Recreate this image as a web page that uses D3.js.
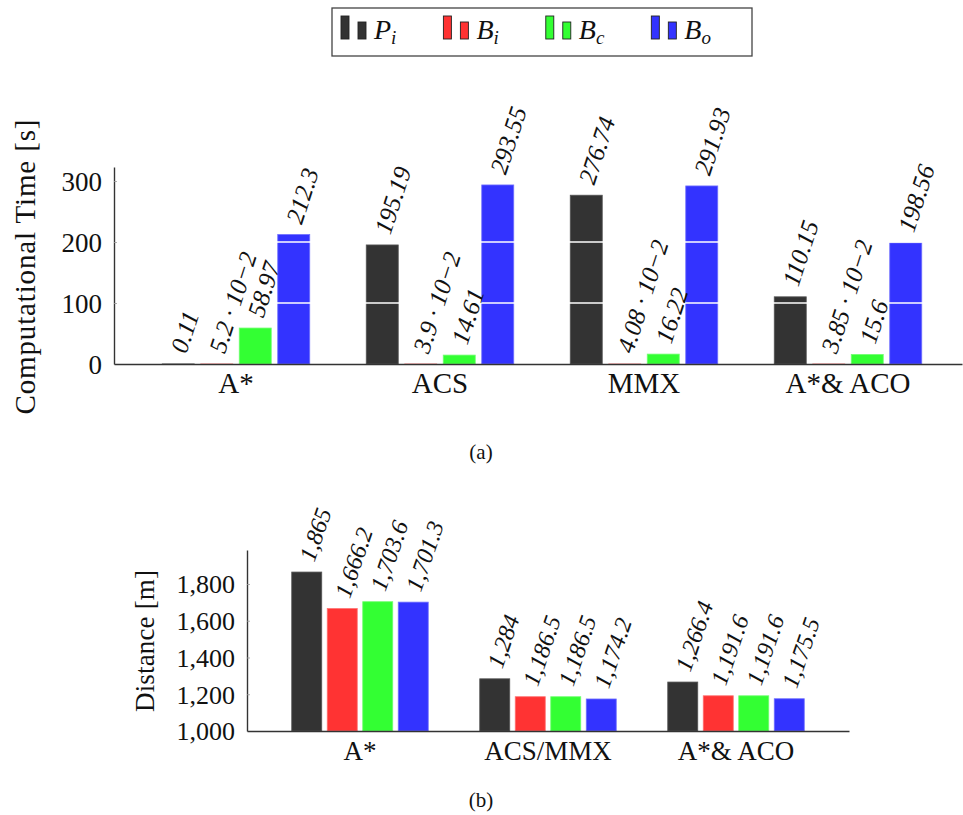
<!DOCTYPE html>
<html>
<head>
<meta charset="utf-8">
<script src="https://cdn.jsdelivr.net/npm/d3@7"></script>
<style>
  html, body { margin: 0; padding: 0; background: #fff; }
  svg { display: block; }
  text { font-family: "Liberation Serif", "Times New Roman", serif; fill: #111; }
</style>
</head>
<body>
<svg id="fig" width="963" height="815"></svg>
<script>
// ---- data -------------------------------------------------------------
const series = ["P_i", "B_i", "B_c", "B_o"];
const seriesColors = ["#333333", "#ff3333", "#33ff33", "#3333ff"];
const seriesStroke = ["#555555", "#ff7070", "#70ff70", "#7070ff"];

// (a) computational time [s]
const timeCategories = ["A*", "ACS", "MMX", "A*& ACO"];
const timePi = [0.11, 195.19, 276.74, 110.15];
const timeBi = [5.2e-2, 3.9e-2, 4.08e-2, 3.85e-2];
const timeBc = [58.97, 14.61, 16.22, 15.6];
const timeBo = [212.3, 293.55, 291.93, 198.56];
const timeTicks = [0, 100, 200, 300];

// (b) distance [m]
const distCategories = ["A*", "ACS/MMX", "A*& ACO"];
const distPi = [1865, 1284, 1266.4];
const distBi = [1666.2, 1186.5, 1191.6];
const distBc = [1703.6, 1186.5, 1191.6];
const distBo = [1701.3, 1174.2, 1175.5];
const distTicks = [1000, 1200, 1400, 1600, 1800];

// ---- helpers ----------------------------------------------------------
const svg = d3.select("#fig");
const AXIS = "#333";

function fmtTime(v) {
  if (v < 0.1) {
    const e = Math.floor(Math.log10(v));
    const m = +(v / Math.pow(10, e)).toFixed(2);
    return m + " \u00b7 10\u2212" + (-e);
  }
  return String(v);
}
const fmtDist = d3.format(",");

function groupedBars(opt) {
  const g = svg.append("g");
  const x = d3.scaleBand().domain(opt.categories)
    .range(opt.xRange).paddingInner(0).paddingOuter(opt.outer).align(opt.align);
  const inner = d3.scaleBand().domain(series)
    .range([-opt.span / 2, opt.span / 2]).paddingInner(opt.innerPad).paddingOuter(0);
  const y = d3.scaleLinear().domain(opt.yDomain).range(opt.yRange);

  const rows = [];
  opt.values.forEach((vals, si) => {
    vals.forEach((v, ci) => rows.push({ s: series[si], si, c: opt.categories[ci], v }));
  });
  const cx = d => x(d.c) + x.bandwidth() / 2 + inner(d.s);

  // bars
  g.selectAll("rect.bar").data(rows).join("rect")
    .attr("class", "bar")
    .attr("x", d => cx(d))
    .attr("width", inner.bandwidth())
    .attr("y", d => y(d.v))
    .attr("height", d => Math.max(0, y(opt.yDomain[0]) - y(d.v)))
    .attr("fill", d => seriesColors[d.si])
    .attr("stroke", d => seriesStroke[d.si])
    .attr("stroke-width", 0.8);

  // white major grid lines (only visible where they cross bars)
  if (opt.grid) {
    g.selectAll("line.grid").data(opt.ticks.filter(t => t > opt.yDomain[0])).join("line")
      .attr("x1", opt.xRange[0]).attr("x2", opt.xRange[1])
      .attr("y1", d => y(d)).attr("y2", d => y(d))
      .attr("stroke", "#fff").attr("stroke-width", 1.3);
  }

  // left axis
  const ya = g.append("g").attr("transform", `translate(${opt.xRange[0]},0)`)
    .call(d3.axisLeft(y).tickValues(opt.ticks).tickFormat(opt.tickFormat)
      .tickSize(-3).tickSizeOuter(0).tickPadding(12));
  ya.select(".domain").attr("stroke", AXIS).attr("stroke-width", 1.4);
  ya.selectAll(".tick line").attr("stroke", "#999").attr("stroke-width", 0.8);
  ya.selectAll(".tick text").attr("font-family", "Liberation Serif")
    .attr("font-size", opt.tickSize).attr("fill", "#111").attr("dy", "0.34em");

  // bottom axis
  const xa = g.append("g").attr("transform", `translate(0,${opt.yRange[0]})`)
    .call(d3.axisBottom(x).tickSize(0).tickPadding(opt.catPad));
  xa.select(".domain").attr("stroke", AXIS).attr("stroke-width", 1.4);
  xa.selectAll(".tick text").attr("font-family", "Liberation Serif")
    .attr("font-size", opt.catSize).attr("fill", "#111");

  // value labels
  g.selectAll("text.val").data(rows).join("text")
    .attr("class", "val")
    .attr("transform", d => `translate(${cx(d) + inner.bandwidth() / 2},${y(d.v) - opt.labelGap}) rotate(${opt.angle})`)
    .attr("text-anchor", "start")
    .attr("dominant-baseline", "central")
    .attr("font-style", "italic")
    .attr("font-size", opt.labelSize)
    .text(d => opt.labelFormat(d.v));

  // y title
  g.append("text")
    .attr("transform", `translate(${opt.titleX},${opt.titleY}) rotate(-90)`)
    .attr("text-anchor", "middle")
    .attr("font-size", opt.titleSize)
    .attr("textLength", opt.titleLen).attr("lengthAdjust", "spacing")
    .text(opt.title);
  return g;
}

// ---- legend -----------------------------------------------------------
const legend = svg.append("g");
legend.append("rect").attr("x", 332).attr("y", 8).attr("width", 420).attr("height", 48)
  .attr("fill", "#fff").attr("stroke", "#444").attr("stroke-width", 1.3);
const subs = ["i", "i", "c", "o"];
const mains = ["P", "B", "B", "B"];
let lx = 341;
series.forEach((s, i) => {
  const e = legend.append("g");
  e.append("rect").attr("x", lx).attr("y", 16).attr("width", 8).attr("height", 23)
    .attr("fill", seriesColors[i]).attr("stroke", "#222").attr("stroke-width", 0.9);
  e.append("rect").attr("x", lx + 17).attr("y", 22).attr("width", 8).attr("height", 17)
    .attr("fill", seriesColors[i]).attr("stroke", "#222").attr("stroke-width", 0.9);
  const t = e.append("text").attr("x", lx + 33).attr("y", 39)
    .attr("font-style", "italic").attr("font-size", 28);
  t.append("tspan").text(mains[i]);
  t.append("tspan").attr("font-size", 19).attr("dy", 5).text(subs[i]);
  const w = t.node().getComputedTextLength();
  lx += 33 + w + 47;
});

// ---- (a) computational time -------------------------------------------
groupedBars({
  categories: timeCategories,
  values: [timePi, timeBi, timeBc, timeBo],
  xRange: [114, 962], outer: 0.0784, align: 0.625,
  span: 147.5, innerPad: 0.169,
  yDomain: [0, 323], yRange: [364, 167],
  ticks: timeTicks, tickFormat: d3.format("d"), tickSize: 27,
  catSize: 29, catPad: 8,
  grid: true,
  labelFormat: fmtTime, labelGap: 12, labelSize: 25, angle: -72,
  title: "Computational Time [s]", titleX: 35, titleY: 267, titleSize: 29, titleLen: 295
});
svg.append("text").attr("x", 481).attr("y", 459).attr("text-anchor", "middle")
  .attr("font-size", 21).text("(a)");

// ---- (b) distance -----------------------------------------------------
groupedBars({
  categories: distCategories,
  values: [distPi, distBi, distBc, distBo],
  xRange: [247, 849], outer: 0.101, align: 0.5,
  span: 136.5, innerPad: 0.155,
  yDomain: [1000, 1985], yRange: [731, 550],
  ticks: distTicks, tickFormat: d3.format(","), tickSize: 26,
  catSize: 27, catPad: 10,
  grid: false,
  labelFormat: fmtDist, labelGap: 12, labelSize: 24, angle: -71,
  title: "Distance [m]", titleX: 154, titleY: 641, titleSize: 27, titleLen: 142
});
svg.append("text").attr("x", 481).attr("y", 807).attr("text-anchor", "middle")
  .attr("font-size", 21).text("(b)");
</script>
</body>
</html>
